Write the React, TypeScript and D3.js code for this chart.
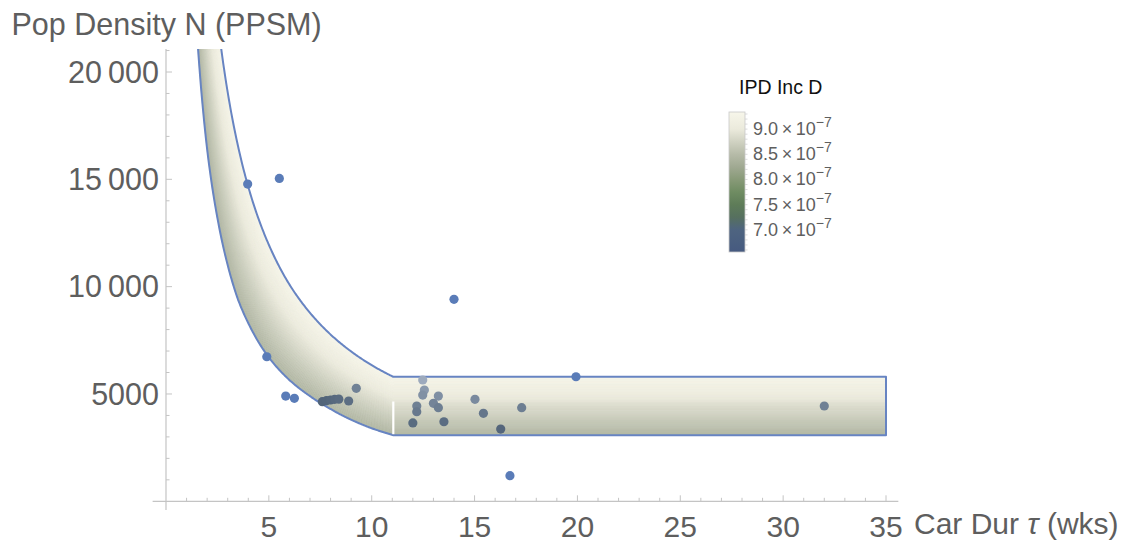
import React from "react";
import * as d3 from "d3";

// Observed carriage duration (weeks) and population density (people per sq. mile)
const carDur = [3.97, 5.51, 4.9, 5.82, 6.24, 7.6, 7.8, 8.0, 8.2, 8.4, 8.88, 9.25, 14.0, 12.48, 12.56, 12.48, 13.24, 12.19, 12.19, 13.0, 13.24, 12.0, 13.51, 15.02, 15.43, 16.27, 17.29, 19.93, 32.0, 16.72];
const popDensity = [14780, 15040, 6735, 4904, 4797, 4640, 4690, 4720, 4750, 4760, 4672, 5263, 9408, 5650, 5184, 4951, 4904, 4439, 4173, 4565, 4360, 3650, 3707, 4751, 4099, 3367, 4360, 5803, 4439, 1192];

// Boundary of the feasible IPD band (lower and upper edges of the curved arm)
const lowerTau = [1.5, 2, 2.5, 3, 3.5, 4, 5, 6, 7, 8, 9, 10, 11.05];
const lowerN = [21900, 16400, 13200, 11000, 9400, 8300, 6700, 5650, 4900, 4300, 3800, 3400, 3080];
const upperTau = [2.6, 3, 3.5, 4, 5, 6, 7, 8, 9, 10, 11.05];
const upperN = [21700, 19050, 16550, 14650, 11950, 10100, 8780, 7770, 6980, 6340, 5800];
const bandTauEnd = 35;
const seamTopN = 4650;

// Colour legend (IPD incidence, units of 1e-7)
const legendValues = [6.56, 7.0, 7.25, 7.5, 7.75, 8.0, 8.25, 8.5, 8.75, 9.0, 9.34];
const legendColors = ["#465a80", "#4e6480", "#56705f", "#5e7c58", "#6f8c62", "#889a78", "#a0a992", "#b6bba8", "#d0d2c2", "#ebeadc", "#f7f6ea"];
const legendTicks = [7.0, 7.5, 8.0, 8.5, 9.0];
const bandValueLow = 8.42;
const bandValueHigh = 9.3;

const xMajor = [5, 10, 15, 20, 25, 30, 35];
const xMinor = d3.range(1, 36);
const yMajor = [5000, 10000, 15000, 20000];
const yMajorLabels = ["5000", "10\u2009000", "15\u2009000", "20\u2009000"];
const yMinor = d3.range(1000, 21001, 1000);

const FONT = "'Liberation Sans', Arial, Helvetica, sans-serif";

function interpLogLog(ts: number[], ns: number[], tau: number) {
  let i = 0;
  while (i < ts.length - 2 && tau > ts[i + 1]) i++;
  const a = Math.log(ts[i]);
  const b = Math.log(ts[i + 1]);
  const f = (Math.log(tau) - a) / (b - a);
  return Math.exp(Math.log(ns[i]) + f * (Math.log(ns[i + 1]) - Math.log(ns[i])));
}

const tauBreak = lowerTau[lowerTau.length - 1];
const bandLow = (tau: number) => (tau >= tauBreak ? lowerN[lowerN.length - 1] : interpLogLog(lowerTau, lowerN, tau));
const bandHigh = (tau: number) => (tau >= tauBreak ? upperN[upperN.length - 1] : interpLogLog(upperTau, upperN, tau));

export default function App() {
  const x = d3.scaleLinear().domain([0, 35]).range([166, 886]);
  const y = d3.scaleLinear().domain([0, 20000]).range([501.3, 72]);
  const legendY = d3.scaleLinear().domain([legendValues[0], legendValues[legendValues.length - 1]]).range([252, 112]);
  const colorOf = d3.scaleLinear<string>().domain(legendValues).range(legendColors).interpolate(d3.interpolateRgb);

  const x0 = x(0);
  const y0 = y(0);
  const xAxisStart = x(-0.65);
  const xAxisEnd = x(35.6);
  const yAxisTop = y(21070);
  const yAxisBottom = y(-400);

  const samples = d3.range(lowerTau[0], tauBreak, 0.04).concat([tauBreak, bandTauEnd]);
  const nStrips = 60;
  const strips = d3.range(nStrips).map((i) => {
    const t0 = i / nStrips;
    const t1 = (i + 1) / nStrips;
    const at = (tau: number, t: number) => bandLow(tau) + t * (bandHigh(tau) - bandLow(tau));
    const top = samples.map((s) => [x(s), y(at(s, t1))] as [number, number]);
    const bot = samples.slice().reverse().map((s) => [x(s), y(at(s, t0))] as [number, number]);
    const d = d3.line()(top.concat(bot)) + "Z";
    const c = colorOf(bandValueLow + ((t0 + t1) / 2) * (bandValueHigh - bandValueLow));
    return { d, c };
  });

  const curveSamples = d3.range(lowerTau[0], tauBreak, 0.04).concat([tauBreak]);
  const outlinePts: [number, number][] = [
    ...curveSamples.map((s) => [x(s), y(bandLow(s))] as [number, number]),
    [x(bandTauEnd), y(bandLow(bandTauEnd))],
    [x(bandTauEnd), y(bandHigh(bandTauEnd))],
    ...curveSamples.slice().reverse().map((s) => [x(s), y(bandHigh(s))] as [number, number]),
  ];
  const outline = d3.line()(outlinePts) || "";

  const pointFill = (tau: number, n: number) => {
    const lo = bandLow(tau);
    const hi = bandHigh(tau);
    const t = (n - lo) / (hi - lo);
    if (t <= 0.03 || t >= 0.99) return "#5a7cb8";
    return d3.interpolateRgb("#506378", "#a3b0c3")(Math.pow(t, 1.4));
  };

  const gradStops = legendValues.map((v, i) => ({
    offset: (legendY(v) - 112) / 140,
    color: legendColors[i],
  }));

  return (
    <svg width={1143} height={550} style={{ position: "absolute", left: 0, top: 0, background: "#fff" }} fontFamily={FONT}>
      <defs>
        <clipPath id="plotArea">
          <rect x={150} y={49} width={750} height={465} />
        </clipPath>
        <linearGradient id="legendGrad" x1="0" y1="0" x2="0" y2="1">
          {gradStops
            .slice()
            .sort((a, b) => a.offset - b.offset)
            .map((s, i) => (
              <stop key={i} offset={s.offset} stopColor={s.color} />
            ))}
        </linearGradient>
      </defs>

      {/* axes */}
      <line x1={xAxisStart} x2={xAxisEnd} y1={y0} y2={y0} stroke="#c4c4c4" strokeWidth={1.2} />
      <line x1={x0} x2={x0} y1={yAxisTop} y2={yAxisBottom} stroke="#c4c4c4" strokeWidth={1.2} />
      {xMinor.map((v) => (
        <line key={"xm" + v} x1={x(v)} x2={x(v)} y1={y0} y2={y0 - (xMajor.includes(v) ? 6 : 3.5)} stroke="#c4c4c4" strokeWidth={1} />
      ))}
      {yMinor.map((v) => (
        <line key={"ym" + v} x1={x0} x2={x0 + (yMajor.includes(v) ? 6 : 3.5)} y1={y(v)} y2={y(v)} stroke="#c4c4c4" strokeWidth={1} />
      ))}
      {xMajor.map((v) => (
        <text key={"xl" + v} x={x(v)} y={537} textAnchor="middle" fontSize={30} fill="#5e5e5e">
          {v}
        </text>
      ))}
      {yMajor.map((v, i) => (
        <text key={"yl" + v} x={159} y={y(v) + 10.8} textAnchor="end" fontSize={30.5} fill="#5e5e5e">
          {yMajorLabels[i]}
        </text>
      ))}
      <text x={11.5} y={35} fontSize={30.5} fill="#5e5e5e">
        Pop Density N (PPSM)
      </text>
      <text x={914} y={534} fontSize={30} fill="#5e5e5e">
        Car Dur <tspan fontStyle="italic">τ</tspan> (wks)
      </text>

      {/* shaded band */}
      <g clipPath="url(#plotArea)">
        {strips.map((s, i) => (
          <path key={"s" + i} d={s.d} fill={s.c} stroke={s.c} strokeWidth={0.6} />
        ))}
        <path d={outline} fill="none" stroke="#6784c2" strokeWidth={2} strokeLinejoin="round" />
        <line x1={x(tauBreak)} x2={x(tauBreak)} y1={y(bandLow(bandTauEnd)) - 1} y2={y(seamTopN)} stroke="#ffffff" strokeWidth={2.2} />
        {carDur.map((t, i) => (
          <circle key={"p" + i} cx={x(t)} cy={y(popDensity[i])} r={4.6} fill={pointFill(t, popDensity[i])} />
        ))}
      </g>

      {/* legend */}
      <text x={739} y={94} fontSize={19.5} fill="#111">
        IPD Inc D
      </text>
      <rect x={729} y={112} width={16} height={140} fill="url(#legendGrad)" stroke="#c8c8c8" strokeWidth={0.8} />
      {d3.range(6.6, 9.31, 0.1).map((v, i) => (
        <line key={"lt" + i} x1={745} x2={747.5} y1={legendY(v)} y2={legendY(v)} stroke="#d0d0d0" strokeWidth={0.8} />
      ))}
      {legendTicks.map((v) => (
        <text key={"lg" + v} x={753} y={legendY(v) + 6} fontSize={18} fill="#5e5e5e">
          {v.toFixed(1)}
          {"\u2009×\u2009"}10
          <tspan fontSize={14} dy={-8}>
            −7
          </tspan>
        </text>
      ))}
    </svg>
  );
}
